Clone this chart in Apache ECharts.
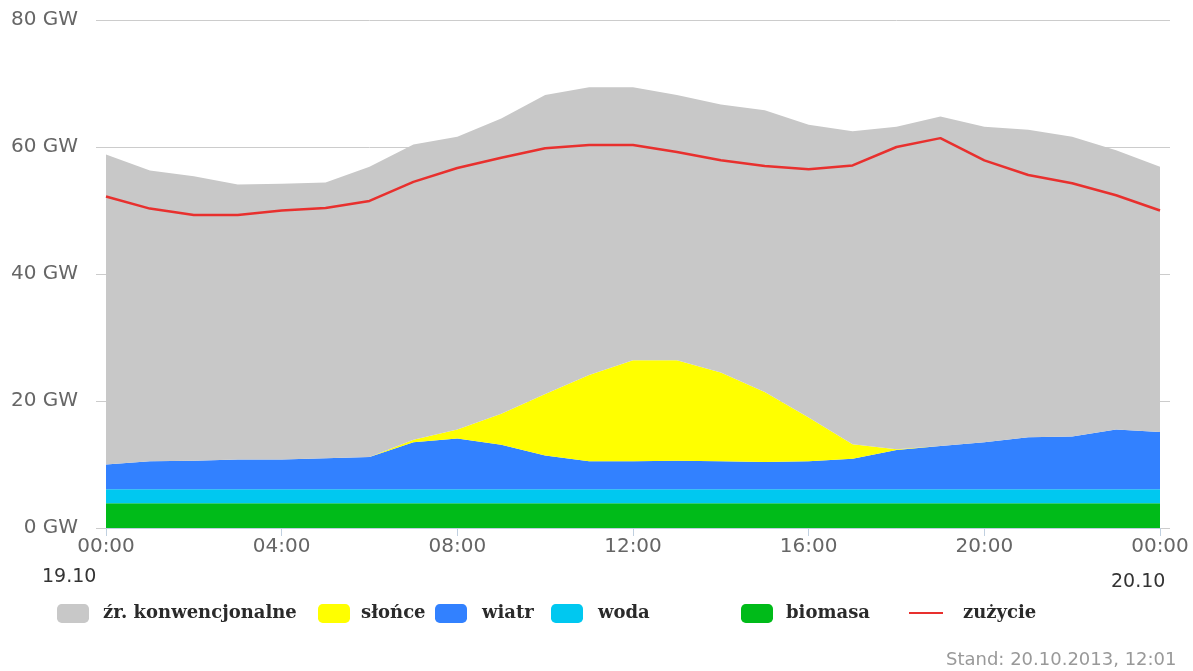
<!DOCTYPE html>
<html>
<head>
<meta charset="utf-8">
<script src="https://cdn.jsdelivr.net/npm/echarts@6/dist/echarts.min.js"></script>
<style>html,body{margin:0;padding:0;background:#fff;}#c{width:1193px;height:671px;}</style>
</head>
<body>
<div id="c"></div>
<script>
const hours = ['00:00','01:00','02:00','03:00','04:00','05:00','06:00','07:00','08:00','09:00','10:00','11:00','12:00','13:00','14:00','15:00','16:00','17:00','18:00','19:00','20:00','21:00','22:00','23:00','00:00'];
const yTicks = [0, 20, 40, 60, 80];
const biomasa = [3.9,3.9,3.9,3.9,3.9,3.9,3.9,3.9,3.9,3.9,3.9,3.9,3.9,3.9,3.9,3.9,3.9,3.9,3.9,3.9,3.9,3.9,3.9,3.9,3.9];
const woda = [2.2,2.2,2.2,2.2,2.2,2.2,2.2,2.2,2.2,2.2,2.2,2.2,2.2,2.2,2.2,2.2,2.2,2.2,2.2,2.2,2.2,2.2,2.2,2.2,2.2];
const wiatr = [3.9,4.4,4.5,4.7,4.7,4.9,5.1,7.4,8.0,7.0,5.3,4.4,4.4,4.5,4.4,4.3,4.4,4.8,6.2,6.8,7.4,8.2,8.3,9.4,9.0];
const slonce = [0,0,0,0,0,0,0,0.4,1.4,4.9,9.7,13.6,15.9,15.8,14.0,11.0,6.9,2.3,0.1,0,0,0,0,0,0];
const konwencjonalne = [48.8,45.8,44.8,43.3,43.4,43.4,45.7,46.5,46.1,46.5,47.1,45.3,43.0,41.8,42.2,44.4,46.1,49.3,50.8,51.9,49.7,48.4,47.2,44.0,41.8];
const zuzycie = [52.2,50.3,49.3,49.3,50.0,50.4,51.5,54.5,56.7,58.3,59.8,60.3,60.3,59.2,57.9,57.0,56.5,57.1,60.0,61.4,57.9,55.6,54.3,52.4,50.0];
const names = ['źr. konwencjonalne','słońce','wiatr','woda','biomasa','zużycie'];
const colors = {konw:'#c8c8c8', slonce:'#ffff00', wiatr:'#3281ff', woda:'#00c8f0', biomasa:'#00bb19', zuzycie:'#e8302e'};

const chart = echarts.init(document.getElementById('c'));
const gridCol = '#cccccc';
const axisCol = '#c0d0e0';
function area(name, data, color){
  return {name, type:'line', stack:'total', data, symbol:'none', showSymbol:false,
    lineStyle:{width:0, color}, itemStyle:{color}, areaStyle:{color, opacity:1}, emphasis:{disabled:true}, z:2};
}
const legendText = {fontFamily:'DejaVu Serif', fontSize:18, fontWeight:'bold', color:'#2a2a2a'};
function leg(name, left, padLeft, icon){
  const l = {data:[name], left, top:599, itemWidth:32, itemHeight:19, itemGap:0,
    textStyle:Object.assign({padding:[0,0,0,padLeft]}, legendText), selectedMode:false};
  if (icon) l.icon = icon;
  return l;
}
chart.setOption({
  animation:false,
  grid:{left:106, right:33, top:20, bottom:143},
  legend:[
    leg(names[0], 52, 9, 'roundRect'),
    leg(names[1], 313, 6, 'roundRect'),
    leg(names[2], 430, 10, 'roundRect'),
    leg(names[3], 546, 10, 'roundRect'),
    leg(names[4], 736, 8, 'roundRect'),
    {data:[{name:names[5], icon:'path://M0,0 L32,0 L32,2 L0,2 Z'}], left:904, top:599, itemWidth:34, itemHeight:19,
      textStyle:Object.assign({padding:[0,0,0,15]}, legendText), selectedMode:false, itemStyle:{color:colors.zuzycie}}
  ],
  xAxis:{type:'category', data:hours, boundaryGap:false,
    axisLine:{lineStyle:{color:axisCol, width:1}},
    axisTick:{interval:3, length:8, lineStyle:{color:axisCol}},
    axisLabel:{interval:3, color:'#666', fontFamily:'DejaVu Sans', fontSize:20, margin:9},
    splitLine:{show:false}},
  yAxis:[
    {type:'value', min:yTicks[0], max:yTicks[yTicks.length-1], interval:20,
      axisLine:{show:false},
      axisTick:{show:true, length:10, lineStyle:{color:gridCol}},
      axisLabel:{color:'#666', fontFamily:'DejaVu Sans', fontSize:20, margin:28, formatter:v=>v+' GW'},
      splitLine:{lineStyle:{color:gridCol}}},
    {type:'value', position:'right', min:yTicks[0], max:yTicks[yTicks.length-1], interval:20,
      axisLine:{show:false},
      axisTick:{show:true, length:10, lineStyle:{color:gridCol}},
      axisLabel:{show:false}, splitLine:{show:false}}
  ],
  graphic:[
    {type:'text', left:42, top:568, style:{text:'19.10', fill:'#333', font:'19px DejaVu Sans'}},
    {type:'text', left:1111, top:573, style:{text:'20.10', fill:'#333', font:'19px DejaVu Sans'}},
    {type:'text', left:946, top:651, style:{text:'Stand: 20.10.2013, 12:01', fill:'#999', font:'18px DejaVu Sans'}}
  ],
  series:[
    area(names[4], biomasa, colors.biomasa),
    area(names[3], woda, colors.woda),
    area(names[2], wiatr, colors.wiatr),
    area(names[1], slonce, colors.slonce),
    area(names[0], konwencjonalne, colors.konw),
    {name:names[5], type:'line', data:zuzycie, symbol:'none', showSymbol:false,
      lineStyle:{width:2.5, color:colors.zuzycie}, itemStyle:{color:colors.zuzycie}, emphasis:{disabled:true}, z:5}
  ]
});
</script>
</body>
</html>
